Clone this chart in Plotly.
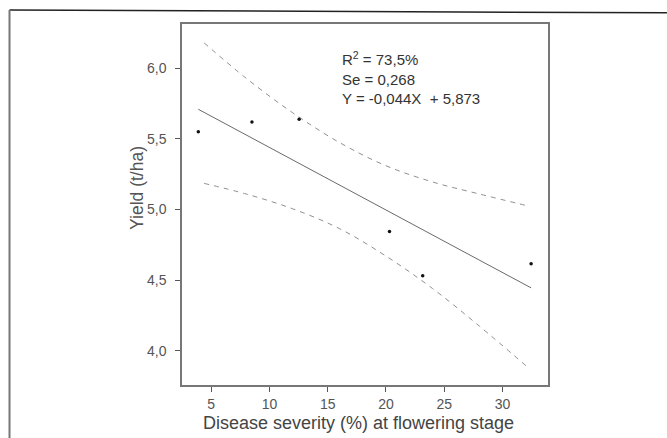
import plotly.graph_objects as go

# Observed data points (disease severity %, yield t/ha)
severity = [3.9, 8.5, 12.55, 20.3, 23.15, 32.45]
yield_tha = [5.55, 5.62, 5.64, 4.845, 4.53, 4.615]

# Fitted regression line endpoints (Y = -0.044X + 5.873)
fit_x = [3.9, 32.45]
fit_y = [5.71, 4.445]

# 95% confidence band
band_x = [4.4, 8, 12, 16, 20, 24, 28, 32.2]
band_upper = [6.18, 5.93, 5.685, 5.475, 5.31, 5.195, 5.11, 5.025]
band_lower = [5.185, 5.11, 5.005, 4.865, 4.67, 4.44, 4.175, 3.88]

y_ticks = [4.0, 4.5, 5.0, 5.5, 6.0]
x_ticks = [5, 10, 15, 20, 25, 30]

stats_text = "R<sup>2</sup> = 73,5%<br>Se = 0,268<br>Y = -0,044X  + 5,873"
x_title = "Disease severity (%) at flowering stage"
y_title = "Yield (t/ha)"

FONT = "Arial, Liberation Sans, sans-serif"

fig = go.Figure()
fig.add_trace(go.Scatter(x=band_x, y=band_upper, mode="lines",
                         line=dict(color="#8f8f8f", width=1, dash="5px,5px", shape="spline"),
                         hoverinfo="skip", showlegend=False))
fig.add_trace(go.Scatter(x=band_x, y=band_lower, mode="lines",
                         line=dict(color="#8f8f8f", width=1, dash="5px,5px", shape="spline"),
                         hoverinfo="skip", showlegend=False))
fig.add_trace(go.Scatter(x=fit_x, y=fit_y, mode="lines",
                         line=dict(color="#6a6a6a", width=1),
                         showlegend=False))
fig.add_trace(go.Scatter(x=severity, y=yield_tha, mode="markers",
                         marker=dict(color="#111", size=3.5),
                         showlegend=False))

fig.add_annotation(x=0.433, y=0.937, xref="paper", yref="paper",
                   xanchor="left", yanchor="top", align="left",
                   text=stats_text, showarrow=False,
                   font=dict(family=FONT, size=15, color="#333"))

# axis titles (placed as in the reference)
fig.add_annotation(x=(358 - 182) / 366, y=(385 - 423) / 361, xref="paper", yref="paper",
                   xanchor="center", yanchor="middle", text=x_title, showarrow=False,
                   font=dict(family=FONT, size=18, color="#444"))
fig.add_annotation(x=(137 - 182) / 366, y=(385 - 188) / 361, xref="paper", yref="paper",
                   xanchor="center", yanchor="middle", text=y_title, showarrow=False,
                   textangle=-90, font=dict(family=FONT, size=17.5, color="#555"))

# outer scan frame
fig.add_shape(type="line", xref="paper", yref="paper",
              x0=-0.4713, y0=1.0388, x1=1.325, y1=1.031,
              line=dict(color="#222", width=1.5))
fig.add_shape(type="line", xref="paper", yref="paper",
              x0=-0.4713, y0=1.0388, x1=-0.4713, y1=-0.147,
              line=dict(color="#777", width=2))

axis_font = dict(family=FONT, size=14, color="#555")
fig.update_xaxes(range=[2.5, 33.9], tickvals=x_ticks, ticks="outside", ticklen=5,
                 tickcolor="#555", showline=True, mirror=True, linecolor="#777",
                 linewidth=1.5, showgrid=False, zeroline=False, tickfont=axis_font)
fig.update_yaxes(range=[3.757, 6.314], tickvals=y_ticks, tickformat=".1f", ticks="outside",
                 ticklen=5, tickcolor="#555", showline=True, mirror=True, linecolor="#777",
                 linewidth=1.5, showgrid=False, zeroline=False, tickfont=axis_font,
                 ticklabelstandoff=6)
fig.update_layout(width=667, height=438, separators=",.",
                  margin=dict(l=182, r=119, t=24, b=53),
                  plot_bgcolor="white", paper_bgcolor="white")

fig.write_html("out.html", config={"displayModeBar": False},
               post_script="document.body.style.margin='0';")
